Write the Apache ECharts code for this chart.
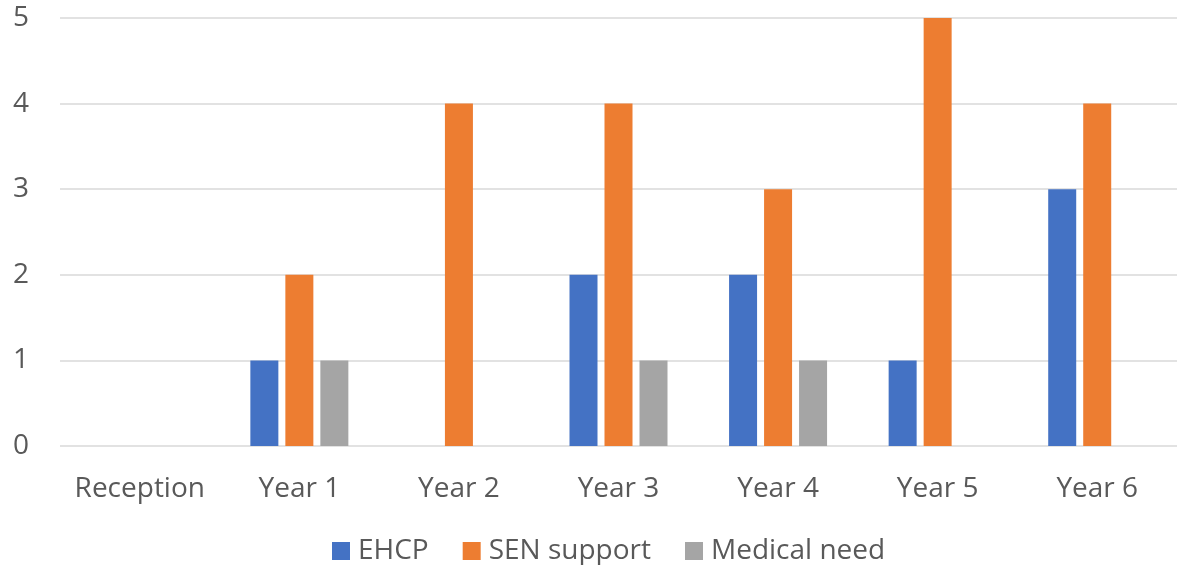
<!DOCTYPE html>
<html>
<head>
<meta charset="utf-8">
<script src="https://cdn.jsdelivr.net/npm/echarts@6/dist/echarts.min.js"></script>
<style>
  html, body { margin: 0; padding: 0; background: #fff; }
  #chart { width: 1182px; height: 565px; }
</style>
</head>
<body>
<div id="chart"></div>
<script>
// Pupils by year group and type of need
const categories = ['Reception', 'Year 1', 'Year 2', 'Year 3', 'Year 4', 'Year 5', 'Year 6'];
const ehcp = [0, 1, 0, 2, 2, 1, 3];
const senSupport = [0, 2, 4, 4, 3, 5, 4];
const medicalNeed = [0, 1, 0, 1, 1, 0, 0];
const yTicks = [0, 1, 2, 3, 4, 5];

const textColor = '#595959';
const font = 'Open Sans';
const fontSize = 28;

const chart = echarts.init(document.getElementById('chart'), null, { renderer: 'canvas' });

function barSeries(name, values, color) {
  return {
    name: name,
    type: 'bar',
    data: values.map(v => (v === 0 ? null : v)),
    barWidth: 28,
    barGap: '25%',
    itemStyle: { color: color },
    emphasis: { disabled: true }
  };
}

chart.setOption({
  animation: false,
  grid: { left: 60, right: 5, top: 18, bottom: 119, containLabel: false },
  legend: {
    top: 535,
    left: 332,
    padding: 0,
    itemWidth: 18,
    itemHeight: 18,
    itemGap: 34,
    icon: 'rect',
    textStyle: { color: textColor, fontSize: fontSize, fontFamily: font, lineHeight: 32, padding: [0, 0, 0, 3] },
    data: ['EHCP', 'SEN support', 'Medical need']
  },
  xAxis: {
    type: 'category',
    data: categories,
    axisLine: { show: false },
    axisTick: { show: false },
    axisLabel: { color: textColor, fontSize: fontSize, fontFamily: font, margin: 29, interval: 0 }
  },
  yAxis: {
    type: 'value',
    min: 0,
    max: 5,
    interval: 1,
    axisLine: { show: false },
    axisTick: { show: false },
    splitLine: { lineStyle: { color: '#d9d9d9', width: 1.5 } },
    axisLabel: {
      color: textColor, fontSize: fontSize, fontFamily: font, margin: 31,
      formatter: v => (yTicks.includes(v) ? String(v) : '')
    }
  },
  series: [
    barSeries('EHCP', ehcp, '#4472c4'),
    barSeries('SEN support', senSupport, '#ed7d31'),
    barSeries('Medical need', medicalNeed, '#a5a5a5')
  ]
});
</script>
</body>
</html>
